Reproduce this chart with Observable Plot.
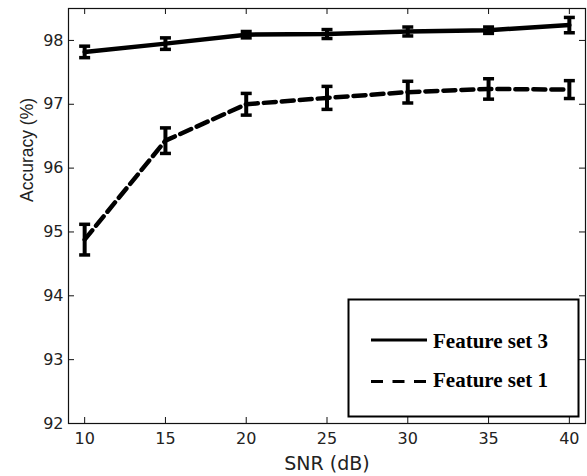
<!DOCTYPE html>
<html>
<head>
<meta charset="utf-8">
<script src="https://cdn.jsdelivr.net/npm/d3@7"></script>
<script src="https://cdn.jsdelivr.net/npm/@observablehq/plot@0.6"></script>
<style>
  html, body { margin: 0; padding: 0; background: #fff; }
  #chart { width: 587px; height: 476px; }
</style>
</head>
<body>
<div id="chart"></div>
<script>
const snr = [10, 15, 20, 25, 30, 35, 40];
const fs3 = [97.82, 97.95, 98.09, 98.10, 98.14, 98.16, 98.24];
const fs3Err = [0.09, 0.09, 0.05, 0.07, 0.07, 0.05, 0.12];
const fs1 = [94.88, 96.43, 97.00, 97.10, 97.19, 97.24, 97.23];
const fs1Err = [0.24, 0.20, 0.17, 0.18, 0.17, 0.16, 0.14];
const xTicks = [10, 15, 20, 25, 30, 35, 40];
const yTicks = [92, 93, 94, 95, 96, 97, 98];
const seriesNames = ["Feature set 3", "Feature set 1"];

const rows3 = snr.map((x, i) => ({x, y: fs3[i], e: fs3Err[i]}));
const rows1 = snr.map((x, i) => ({x, y: fs1[i], e: fs1Err[i]}));
const allRows = rows3.concat(rows1);

const W = 587, H = 476;
const mL = 68, mR = 2, mT = 8, mB = 53;
const pW = W - mL - mR, pH = H - mT - mB;

const hbar = { draw(ctx, size) { const r = Math.sqrt(size / Math.PI); ctx.moveTo(-r, 0); ctx.lineTo(r, 0); } };

const chart = Plot.plot({
  width: W, height: H,
  marginLeft: mL, marginRight: mR, marginTop: mT, marginBottom: mB,
  style: {fontFamily: "DejaVu Sans", fontSize: "16px", color: "#222", background: "#fff"},
  x: {domain: [9, 41]},
  y: {domain: [92, 98.5]},
  marks: [
    Plot.frame({stroke: "#111", strokeWidth: 1.2}),
    Plot.tickX(xTicks, {x: d => d, insetTop: pH - 6, stroke: "#111"}),
    Plot.tickX(xTicks, {x: d => d, insetBottom: pH - 6, stroke: "#111"}),
    Plot.tickY(yTicks, {y: d => d, insetRight: pW - 6, stroke: "#111"}),
    Plot.tickY(yTicks, {y: d => d, insetLeft: pW - 6, stroke: "#111"}),
    Plot.axisX({ticks: xTicks, tickSize: 0, tickPadding: 9, label: null, fill: "#222", tickFormat: d3.format("d")}),
    Plot.axisY({ticks: yTicks, tickSize: 0, tickPadding: 5, label: null, fill: "#222", tickFormat: d3.format("d")}),
    Plot.line(rows3, {x: "x", y: "y", stroke: "black", strokeWidth: 4.5}),
    Plot.line(rows1, {x: "x", y: "y", stroke: "black", strokeWidth: 4.5, strokeDasharray: "12,6"}),
    Plot.ruleX(allRows, {x: "x", y1: d => d.y - d.e, y2: d => d.y + d.e, stroke: "black", strokeWidth: 4}),
    Plot.dot(allRows, {x: "x", y: d => d.y - d.e, symbol: hbar, r: 5.5, stroke: "black", strokeWidth: 3.5, fill: "none"}),
    Plot.dot(allRows, {x: "x", y: d => d.y + d.e, symbol: hbar, r: 5.5, stroke: "black", strokeWidth: 3.5, fill: "none"}),
    Plot.text(["SNR (dB)"], {frameAnchor: "bottom", lineAnchor: "middle", dy: 40, fontSize: 19, fill: "#222"}),
    Plot.text(["Accuracy (%)"], {frameAnchor: "left", lineAnchor: "middle", rotate: -90, dx: -41, dy: -14, fontSize: 17.5, fontFamily: "Liberation Sans", fill: "#222"})
  ]
});

const svg = d3.select(chart);
const lg = svg.append("g").attr("text-anchor", "start");
lg.append("rect").attr("x", 348.5).attr("y", 299.5).attr("width", 230).attr("height", 117)
  .attr("fill", "white").attr("stroke", "black").attr("stroke-width", 2);
lg.append("line").attr("x1", 371).attr("x2", 427).attr("y1", 340).attr("y2", 340)
  .attr("stroke", "black").attr("stroke-width", 3);
lg.append("line").attr("x1", 371).attr("x2", 428).attr("y1", 381.5).attr("y2", 381.5)
  .attr("stroke", "black").attr("stroke-width", 3).attr("stroke-dasharray", "12,9.5");
lg.append("text").attr("x", 433).attr("y", 347.5).text(seriesNames[0]).attr("text-anchor", "start")
  .attr("font-family", "Liberation Serif").attr("font-weight", "bold").attr("font-size", 21).attr("fill", "black");
lg.append("text").attr("x", 433).attr("y", 386.5).text(seriesNames[1]).attr("text-anchor", "start")
  .attr("font-family", "Liberation Serif").attr("font-weight", "bold").attr("font-size", 21).attr("fill", "black");

document.getElementById("chart").appendChild(chart);
</script>
</body>
</html>
